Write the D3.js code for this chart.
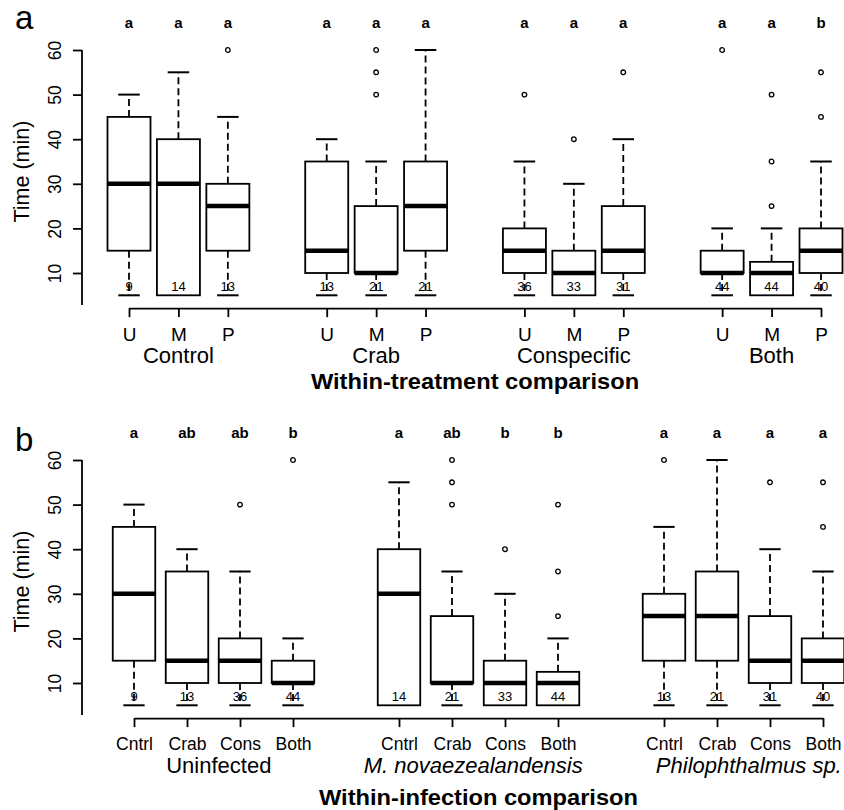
<!DOCTYPE html>
<html>
<head>
<meta charset="utf-8">
<script src="https://cdn.jsdelivr.net/npm/d3@7/dist/d3.min.js"></script>
<style>
body { margin: 0; background: #fff; }
text { font-family: "Liberation Sans", Arial, sans-serif; fill: #000; }
</style>
</head>
<body>
<svg width="844" height="810"></svg>
<script>
// panel a: within-treatment comparison
var treatments = ["Control", "Crab", "Conspecific", "Both"];
var infShort = ["U", "M", "P"];
// [lower whisker, q1, median, q3, upper whisker], ordered treatment by treatment (U, M, P)
var statsA = [
    [5, 15, 30, 45, 50], [5, 5, 30, 40, 55], [5, 15, 25, 30, 45],
    [5, 10, 15, 35, 40], [5, 10, 10, 25, 35], [5, 15, 25, 35, 60],
    [5, 10, 15, 20, 35], [5, 5, 10, 15, 30], [5, 10, 15, 25, 40],
    [5, 10, 10, 15, 20], [5, 5, 10, 12.5, 20], [5, 10, 15, 20, 35]
];
var outliersA = [[], [], [60], [], [50, 55, 60], [], [50], [40], [55], [60], [25, 35, 50], [45, 55]];
var nA = [9, 14, 13, 13, 21, 21, 36, 33, 31, 44, 44, 40];
var lettersA = ["a", "a", "a", "a", "a", "a", "a", "a", "a", "a", "a", "b"];

// panel b: within-infection comparison
var infections = ["Uninfected", "M. novaezealandensis", "Philophthalmus sp."];
var treatShort = ["Cntrl", "Crab", "Cons", "Both"];
var statsB = [
    [5, 15, 30, 45, 50], [5, 10, 15, 35, 40], [5, 10, 15, 20, 35], [5, 10, 10, 15, 20],
    [5, 5, 30, 40, 55], [5, 10, 10, 25, 35], [5, 5, 10, 15, 30], [5, 5, 10, 12.5, 20],
    [5, 15, 25, 30, 45], [5, 15, 25, 35, 60], [5, 10, 15, 25, 40], [5, 10, 15, 20, 35]
];
var outliersB = [[], [], [50], [60], [], [50, 55, 60], [40], [25, 35, 50], [60], [], [55], [45, 55]];
var nB = [9, 13, 36, 44, 14, 21, 33, 44, 13, 21, 31, 40];
var lettersB = ["a", "ab", "ab", "b", "a", "ab", "b", "b", "a", "a", "a", "a"];

var yTicks = [10, 20, 30, 40, 50, 60];

var svg = d3.select("svg");

var drawPanel = function(p)
{
    var g = svg.append("g");
    var perGroup = p.sub.length;
    var slots = [];
    p.groups.forEach(function(grp, gi) {
        p.sub.forEach(function(s, si) { slots.push(gi * (perGroup + 1) + si + 1); });
    });

    var x = d3.scaleLinear()
        .domain([1, d3.max(slots)])
        .range(p.xRange);
    var y = d3.scaleLinear()
        .domain([10, 60])
        .range([p.y10, p.y60]);
    var yLow = 2.8;
    var axisY = y(yLow) + 3;

    var boxes = p.stats.map(function(s, i) {
        return {slot: slots[i], s: s, out: p.outliers[i], n: p.n[i], letter: p.letters[i]};
    });

    // y axis
    var yAxis = g.append("g")
        .attr("transform", "translate(" + p.axisX + ",0)")
        .call(d3.axisLeft(y).tickValues(yTicks).tickSize(9).tickSizeOuter(0));
    yAxis.select(".domain")
        .attr("d", "M0," + y(60) + "V" + y(yLow))
        .attr("stroke-width", 1.8);
    yAxis.selectAll(".tick line").attr("stroke-width", 1.8);
    yAxis.selectAll(".tick text")
        .attr("x", 0).attr("dy", 0)
        .attr("text-anchor", "middle")
        .attr("transform", "translate(-21,0) rotate(-90)")
        .style("font-size", "17.5px")
        .style("font-family", "Liberation Sans, Arial, sans-serif");

    g.append("text")
        .attr("transform", "translate(" + (p.axisX - 53) + "," + ((y(60) + y(yLow)) / 2 - 6) + ") rotate(-90)")
        .attr("text-anchor", "middle")
        .style("font-size", "21.5px")
        .text("Time (min)");

    // x axis
    var xAxis = g.append("g")
        .attr("transform", "translate(0," + axisY + ")")
        .call(d3.axisBottom(x)
            .tickValues(slots)
            .tickFormat(function(d, i) { return p.sub[i % perGroup]; })
            .tickSize(9).tickSizeOuter(0).tickPadding(10));
    xAxis.select(".domain").attr("stroke-width", 1.8);
    xAxis.selectAll(".tick line").attr("stroke-width", 1.8);
    xAxis.selectAll(".tick text")
        .style("font-size", p.tickFont)
        .style("font-family", "Liberation Sans, Arial, sans-serif");

    g.selectAll(".grp-label")
        .data(p.groups)
        .enter()
        .append("text")
        .attr("class", "grp-label")
        .attr("x", function(d, gi) { return x(gi * (perGroup + 1) + 1 + p.groupLabelAt[gi]); })
        .attr("y", axisY + 55)
        .attr("text-anchor", "middle")
        .style("font-size", "22px")
        .style("font-style", function(d, gi) { return p.italic[gi] ? "italic" : "normal"; })
        .text(function(d) { return d; });

    g.append("text")
        .attr("transform", "translate(" + ((p.xRange[0] + p.xRange[1]) / 2) + "," + p.titleY + ") scale(1.1,1)")
        .attr("text-anchor", "middle")
        .style("font-size", "21.5px")
        .style("font-weight", "bold")
        .text(p.title);

    g.append("text")
        .attr("x", 15)
        .attr("y", p.panelY)
        .style("font-size", "33px")
        .text(p.panel);

    // boxes
    var bw = p.boxWidth;
    var cw = bw / 2;
    var box = g.selectAll(".box")
        .data(boxes)
        .enter()
        .append("g")
        .attr("class", "box")
        .attr("transform", function(d) { return "translate(" + x(d.slot) + ",0)"; });

    box.filter(function(d) { return d.s[4] > d.s[3]; })
        .append("line")
        .attr("y1", function(d) { return y(d.s[3]); })
        .attr("y2", function(d) { return y(d.s[4]); })
        .attr("stroke", "#000").attr("stroke-width", 1.8).attr("stroke-dasharray", "7,4");
    box.filter(function(d) { return d.s[4] > d.s[3]; })
        .append("line")
        .attr("x1", -cw / 2).attr("x2", cw / 2)
        .attr("y1", function(d) { return y(d.s[4]); })
        .attr("y2", function(d) { return y(d.s[4]); })
        .attr("stroke", "#000").attr("stroke-width", 2);
    box.filter(function(d) { return d.s[0] < d.s[1]; })
        .append("line")
        .attr("y1", function(d) { return y(d.s[1]); })
        .attr("y2", function(d) { return y(d.s[0]); })
        .attr("stroke", "#000").attr("stroke-width", 1.8).attr("stroke-dasharray", "7,4");
    box.filter(function(d) { return d.s[0] < d.s[1]; })
        .append("line")
        .attr("x1", -cw / 2).attr("x2", cw / 2)
        .attr("y1", function(d) { return y(d.s[0]); })
        .attr("y2", function(d) { return y(d.s[0]); })
        .attr("stroke", "#000").attr("stroke-width", 2);

    box.append("rect")
        .attr("x", -bw / 2)
        .attr("width", bw)
        .attr("y", function(d) { return y(d.s[3]); })
        .attr("height", function(d) { return y(d.s[1]) - y(d.s[3]); })
        .attr("fill", "#fff")
        .attr("stroke", "#000")
        .attr("stroke-width", 1.8);

    box.append("line")
        .attr("x1", -bw / 2).attr("x2", bw / 2)
        .attr("y1", function(d) { return y(d.s[2]); })
        .attr("y2", function(d) { return y(d.s[2]); })
        .attr("stroke", "#000").attr("stroke-width", 4.5);

    box.selectAll("circle")
        .data(function(d) { return d.out; })
        .enter()
        .append("circle")
        .attr("cy", function(v) { return y(v); })
        .attr("r", 2.3)
        .attr("fill", "none")
        .attr("stroke", "#000")
        .attr("stroke-width", 1.3);

    box.append("text")
        .attr("y", y(7) + 5)
        .attr("text-anchor", "middle")
        .style("font-size", "13px")
        .text(function(d) { return d.n; });

    box.append("text")
        .attr("y", p.letterY)
        .attr("text-anchor", "middle")
        .style("font-size", "15px")
        .style("font-weight", "bold")
        .text(function(d) { return d.letter; });
}

drawPanel({
    panel: "a", groups: treatments, sub: infShort,
    stats: statsA, outliers: outliersA, n: nA, letters: lettersA,
    xRange: [129, 821], y10: 273, y60: 50, axisX: 82,
    boxWidth: 43, tickFont: "19px",
    groupLabelAt: [1, 1, 1, 1], italic: [false, false, false, false],
    title: "Within-treatment comparison", titleY: 389, letterY: 28, panelY: 29
});

drawPanel({
    panel: "b", groups: infections, sub: treatShort,
    stats: statsB, outliers: outliersB, n: nB, letters: lettersB,
    xRange: [134, 823], y10: 683, y60: 460, axisX: 82,
    boxWidth: 42.5, tickFont: "17.5px",
    groupLabelAt: [1.6, 1.4, 1.6], italic: [false, true, true],
    title: "Within-infection comparison", titleY: 805, letterY: 438, panelY: 451
});
</script>
</body>
</html>
